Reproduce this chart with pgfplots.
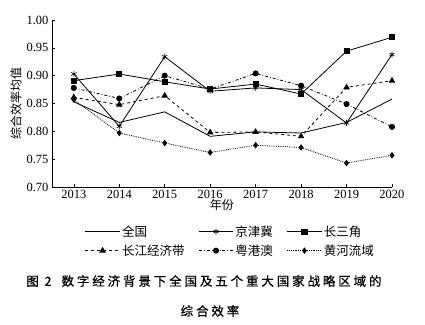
\documentclass[border=0pt]{standalone}
\usepackage{pgfplots}
\pgfplotsset{compat=1.18}
\usepackage{fontspec}
\setmainfont{Liberation Serif}
\newfontfamily\cjk{Noto Sans CJK SC}
\newfontfamily\cjkcap[LetterSpace=23, FakeBold=0.7]{Noto Sans CJK SC}
\begin{document}
\begin{tikzpicture}
\path[use as bounding box] (-52pt,-137pt) rectangle (373pt,187pt);
\begin{axis}[
  at={(0pt,0pt)}, anchor=south west,
  scale only axis, width=340pt, height=167pt,
  xmin=2012.52, xmax=2020, ymin=0.70, ymax=1.00,
  axis x line*=bottom, axis y line*=left,
  axis line style={-, line width=0.8pt},
  xtick={2013,...,2020},
  ytick={0.70,0.75,...,1.00},
  tick align=inside, major tick length=3pt,
  tick style={line width=0.6pt, black},
  /pgf/number format/assume math mode=true,
  xticklabel style={/pgf/number format/1000 sep={}, font=\fontsize{12.5}{14}\selectfont},
  yticklabel style={/pgf/number format/fixed, /pgf/number format/precision=2, /pgf/number format/fixed zerofill, font=\fontsize{12.5}{14}\selectfont},
  xlabel={\cjk 年份}, xlabel style={font=\fontsize{12}{14}\selectfont, yshift=6pt},
  ylabel={\cjk 综合效率均值}, ylabel style={font=\fontsize{12}{14}\selectfont, yshift=-2pt},
  legend columns=3,
  legend cell align=left,
  legend style={draw=none, fill=none, at={(0.525,-0.205)}, anchor=north,
    font=\fontsize{12.5}{14}\selectfont\cjk,
    /tikz/every even column/.append style={column sep=12pt},
    /tikz/every odd column/.append style={column sep=0pt},
    row sep=3pt},
  legend image code/.code={\draw[mark repeat=2,mark phase=2] plot coordinates {(0cm,0cm)(0.6cm,0cm)(1.2cm,0cm)};},
  every axis plot/.append style={black, line width=0.8pt},
]
\addplot[mark=none] coordinates {(2013,0.853)(2014,0.816)(2015,0.835)(2016,0.791)(2017,0.799)(2018,0.797)(2019,0.816)(2020,0.858)};
\addlegendentry{全国}
\addplot[mark=asterisk, mark size=3pt, mark options={line width=0.6pt}] coordinates {(2013,0.903)(2014,0.809)(2015,0.934)(2016,0.872)(2017,0.878)(2018,0.875)(2019,0.815)(2020,0.938)};
\addlegendentry{京津冀}
\addplot[mark=square*, mark size=2.6pt] coordinates {(2013,0.891)(2014,0.903)(2015,0.889)(2016,0.876)(2017,0.885)(2018,0.867)(2019,0.944)(2020,0.969)};
\addlegendentry{长三角}
\addplot[dashed, mark=triangle*, mark size=3pt, mark options={solid}] coordinates {(2013,0.861)(2014,0.848)(2015,0.864)(2016,0.798)(2017,0.799)(2018,0.791)(2019,0.879)(2020,0.891)};
\addlegendentry{长江经济带}
\addplot[dash dot, mark=*, mark size=2.6pt, mark options={solid}] coordinates {(2013,0.878)(2014,0.859)(2015,0.900)(2016,0.876)(2017,0.904)(2018,0.882)(2019,0.849)(2020,0.808)};
\addlegendentry{粤港澳}
\addplot[densely dotted, mark=diamond*, mark size=2.6pt, mark options={solid}] coordinates {(2013,0.857)(2014,0.797)(2015,0.779)(2016,0.762)(2017,0.775)(2018,0.771)(2019,0.743)(2020,0.757)};
\addlegendentry{黄河流域}
\end{axis}
\node[font=\fontsize{12.5}{14}\selectfont\cjkcap] at (152pt,-94pt) {图 2\hspace{10pt}数字经济背景下全国及五个重大国家战略区域的};
\node[font=\fontsize{12.5}{14}\selectfont\cjkcap] at (158pt,-124pt) {综合效率};
\end{tikzpicture}
\end{document}
